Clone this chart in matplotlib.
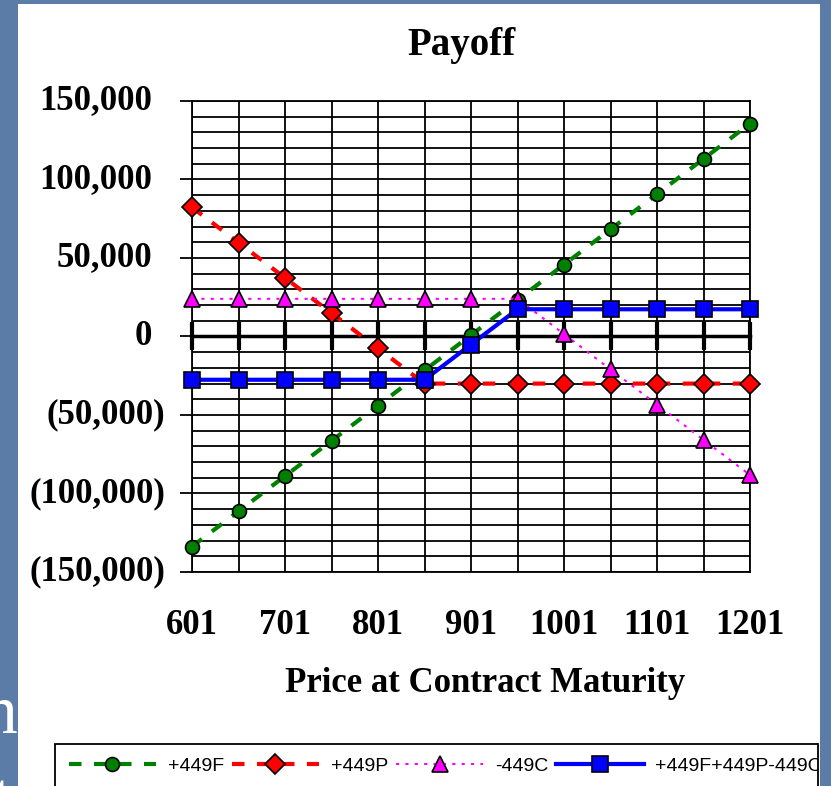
import matplotlib

matplotlib.use("Agg")
import matplotlib.pyplot as plt
import matplotlib.transforms as mtransforms
from matplotlib.lines import Line2D
from matplotlib.patches import Rectangle

# payoff table (price at maturity vs. position payoff)
price = [601, 651, 701, 751, 801, 851, 901, 951, 1001, 1051, 1101, 1151, 1201]
fut_long = [-133802, -111352, -88902, -66452, -44002, -21552, 898,
            23348, 45798, 68248, 90698, 113148, 135598]
put_long = [82250, 59800, 37350, 14900, -7550, -30000, -30000,
            -30000, -30000, -30000, -30000, -30000, -30000]
call_short = [24000, 24000, 24000, 24000, 24000, 24000, 24000,
              24000, 1550, -20900, -43350, -65800, -88250]
combined = [-27552, -27552, -27552, -27552, -27552, -27552, -5102,
            17348, 17348, 17348, 17348, 17348, 17348]
series_names = ["+449F", "+449P", "-449C", "+449F+449P-449C"]
y_major = [150000, 100000, 50000, 0, -50000, -100000, -150000]
x_labelled = [601, 701, 801, 901, 1001, 1101, 1201]

W, H = 831, 786
SLIDE = "#5b7ca7"
SERIF = ["Liberation Serif", "DejaVu Serif"]

fig = plt.figure(figsize=(W / 100, H / 100), dpi=100)
fig.patch.set_facecolor(SLIDE)

# white chart panel on the slide
fig.add_artist(Rectangle((18 / W, 0), (820 - 18) / W, 1 - 4 / H,
                         transform=fig.transFigure, facecolor="white",
                         edgecolor="none", zorder=0))
# bits of slide text peeking out on the left
fig.text(17 / W, 1 - 733 / H, "n", ha="right", va="baseline", color="white",
         fontsize=50, family=SERIF, zorder=1)
fig.text(12 / W, 1 - 820 / H, "t", ha="right", va="baseline", color="white",
         fontsize=50, family=SERIF, zorder=1)

ax = fig.add_axes([192 / W, 1 - 572 / H, (750 - 192) / W, (572 - 101) / H])
ax.set_facecolor("white")

ax.plot(price, fut_long, color="#008000", lw=3, dashes=(3, 3), marker="o", ms=10,
        mfc="#008000", mec="black", mew=1.2, label=series_names[0], clip_on=False, zorder=4)
ax.plot(price, put_long, color="#ff0000", lw=3, dashes=(3, 3), marker="D", ms=10,
        mfc="#ff0000", mec="black", mew=1.2, label=series_names[1], clip_on=False, zorder=5)
ax.plot(price, call_short, color="#ff00ff", lw=1.5, dashes=(1.5, 3), marker="^", ms=12,
        mfc="#ff00ff", mec="black", mew=1.2, label=series_names[2], clip_on=False, zorder=6)
ax.plot(price, combined, color="#0000ff", lw=3, marker="s", ms=11,
        mfc="#0000ff", mec="black", mew=1.2, label=series_names[3], clip_on=False, zorder=7)

ax.set_xlim(price[0], price[-1])
ax.set_ylim(y_major[-1], y_major[0])

# grid: every category and every 10,000
ax.set_xticks(price)
ax.set_yticks(y_major)
ax.set_yticks(range(-150000, 150001, 10000), minor=True)
ax.grid(which="both", axis="both", color="black", lw=1.3)
ax.set_axisbelow(True)

for side in ("top", "right", "left"):
    ax.spines[side].set_linewidth(1.3)
ax.spines["bottom"].set_position(("data", 0))
ax.spines["bottom"].set_linewidth(2.5)
ax.spines["bottom"].set_zorder(3)
ax.axhline(y_major[-1], color="black", lw=1.3, clip_on=False)

ax.tick_params(axis="x", direction="inout", length=20, width=3, labelbottom=False)
ax.tick_params(axis="y", which="major", direction="out", length=9, width=1.3, labelleft=False)
ax.tick_params(axis="y", which="minor", length=0)

# y labels, accounting format: positives leave room for ")"
ytrans = mtransforms.blended_transform_factory(ax.transAxes, ax.transData)
for v in y_major:
    if v < 0:
        lab, xr = f"({abs(v):,})", 165
    else:
        lab, xr = f"{v:,}", 152
    ax.text((xr - 192) / (750 - 192), v, lab, transform=ytrans, ha="right", va="center",
            fontsize=25, fontweight="bold", family=SERIF)

xtrans = mtransforms.blended_transform_factory(ax.transData, ax.transAxes)
for p in x_labelled:
    ax.text(p, -(625 - 572) / (572 - 101), str(p), transform=xtrans, ha="center",
            va="center", fontsize=25, fontweight="bold", family=SERIF)

fig.text(462 / W, 1 - 45 / H, "Payoff", ha="center", va="center", fontsize=28,
         fontweight="bold", family=SERIF)
fig.text(485 / W, 1 - 684 / H, "Price at Contract Maturity", ha="center", va="center",
         fontsize=25, fontweight="bold", family=SERIF)

handles, labels = ax.get_legend_handles_labels()
leg = fig.legend(handles, labels, loc="upper left", bbox_to_anchor=(55 / W, 1 - 744 / H),
                 ncol=4, frameon=True, fancybox=False, edgecolor="black", framealpha=1,
                 prop={"family": ["Liberation Sans", "DejaVu Sans"], "size": 14},
                 handlelength=4.5, handletextpad=0.6, columnspacing=0.4, borderpad=0.7,
                 borderaxespad=0)
leg.get_frame().set_linewidth(1.3)

# legend runs off the panel edge
fig.add_artist(Rectangle((818 / W, 0), 2 / W, 1 - 4 / H, transform=fig.transFigure,
                         facecolor="white", edgecolor="none", zorder=20))
fig.add_artist(Rectangle((820 / W, 0), 11 / W, 1, transform=fig.transFigure,
                         facecolor=SLIDE, edgecolor="none", zorder=20))
fig.add_artist(Line2D([818 / W, 818 / W], [0, 1 - 744 / H], transform=fig.transFigure,
                      color="black", lw=1.3, zorder=21))

fig.savefig("out.png", dpi=100, facecolor=fig.get_facecolor())
plt.close(fig)
